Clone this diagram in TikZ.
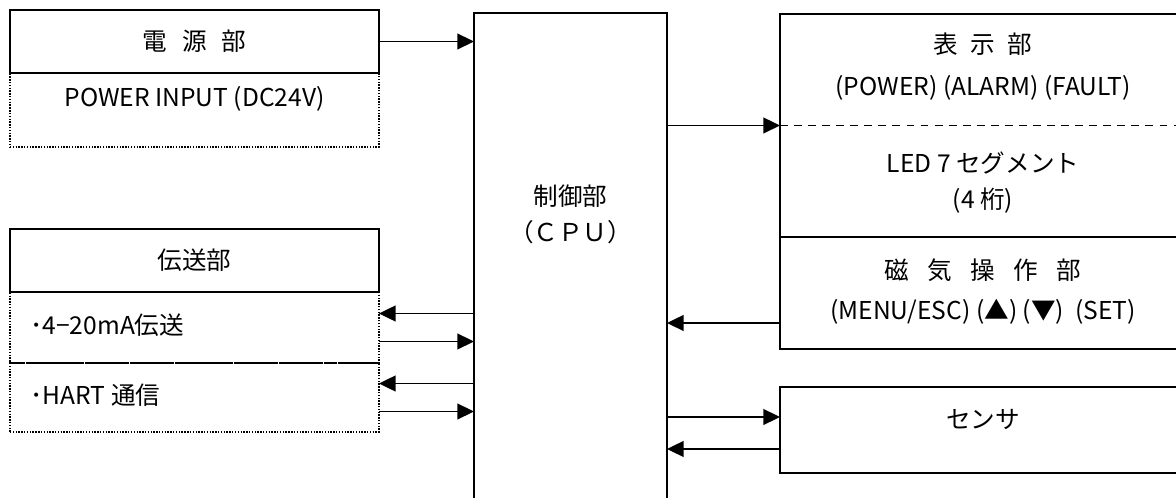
\documentclass[tikz,border=0pt]{standalone}
\usepackage{fontspec}
\setmainfont{Noto Sans CJK JP}
\usetikzlibrary{arrows.meta}
\begin{document}
\begin{tikzpicture}[
        x=0.02cm, y=-0.02cm,
        font=\fontsize{14pt}{16pt}\selectfont,
        box/.style={draw, line width=1pt, rectangle, anchor=north west, inner sep=0pt, outer sep=0pt},
        dotbox/.style={box, line width=0.8pt, dash pattern=on 0.8pt off 0.8pt},
        lbl/.style={anchor=base, inner sep=0pt},
        arr/.style={line width=1pt, -{Triangle[length=9.5pt,width=9pt]}}
    ]
    \useasboundingbox (0,0) rectangle (1176,497);
    % left column
    \node[dotbox, minimum width=7.38cm, minimum height=1.48cm] (pwrin) at (10,73) {};
    \node[box, fill=white, minimum width=7.38cm, minimum height=1.26cm] (pwr) at (10,10) {電\hspace{.6em}源\hspace{.6em}部};
    \node[lbl] (pwrtxt) at (194.5,106) {POWER INPUT (DC24V)};
    \node[dotbox, minimum width=7.38cm, minimum height=1.42cm] (txa) at (10,292) {};
    \node[dotbox, minimum width=7.38cm, minimum height=1.38cm] (txb) at (10,363) {};
    \node[box, fill=white, minimum width=7.38cm, minimum height=1.26cm] (tx) at (10,229) {伝送部};
    \node[lbl, anchor=base west] (txatxt) at (30,334) {･4−20mA伝送};
    \node[lbl, anchor=base west] (txbtxt) at (30,404) {･HART 通信};
    % cpu
    \node[box, minimum width=3.86cm, minimum height=10.4cm] (cpu) at (474,13) {};
    \node[lbl] (cputxt) at (570.5,205) {制御部};
    \node[lbl] (cpusub) at (570.5,241) {（ＣＰＵ）};
    % right column
    \node[box, minimum width=8.12cm, minimum height=4.46cm] (disp) at (780,14) {};
    \node[box, minimum width=8.12cm, minimum height=2.24cm] (mag) at (780,237) {};
    \node[box, minimum width=8.12cm, minimum height=1.72cm] (sen) at (780,387) {};
    \draw[line width=0.9pt, dash pattern=on 4.5pt off 3.5pt] (disp.west) -- (disp.east);
    \node[lbl] (disptxt) at (983,53) {表\hspace{.5em}示\hspace{.5em}部};
    \node[lbl] (displed) at (983,95) {(POWER) (ALARM) (FAULT)};
    \node[lbl] (dispseg) at (983,172) {LED 7 セグメント};
    \node[lbl] (dispdig) at (983,208) {(4 桁)};
    \node[lbl] (magtxt) at (983,279) {磁\hspace{.75em}気\hspace{.75em}操\hspace{.75em}作\hspace{.75em}部};
    \node[lbl] (magkey) at (983,319) {(MENU/ESC) (▲) (▼)\ \ (SET)};
    \node[lbl] (sentxt) at (983,428) {センサ};
    % connectors
    \draw[arr] (pwr.east) -- (pwr.east -| cpu.west);
    \draw[arr] (disp.west -| cpu.east) -- (disp.west);
    \draw[arr] ([yshift=0.28cm]txa.east -| cpu.west) -- ([yshift=0.28cm]txa.east);
    \draw[arr] ([yshift=-0.28cm]txa.east) -- ([yshift=-0.28cm]txa.east -| cpu.west);
    \draw[arr] ([yshift=0.28cm]txb.east -| cpu.west) -- ([yshift=0.28cm]txb.east);
    \draw[arr] ([yshift=-0.28cm]txb.east) -- ([yshift=-0.28cm]txb.east -| cpu.west);
    \draw[arr] ([yshift=-0.6cm]mag.west) -- ([yshift=-0.6cm]mag.west -| cpu.east);
    \draw[arr] ([yshift=0.26cm]sen.west -| cpu.east) -- ([yshift=0.26cm]sen.west);
    \draw[arr] ([yshift=-0.38cm]sen.west) -- ([yshift=-0.38cm]sen.west -| cpu.east);
\end{tikzpicture}
\end{document}
